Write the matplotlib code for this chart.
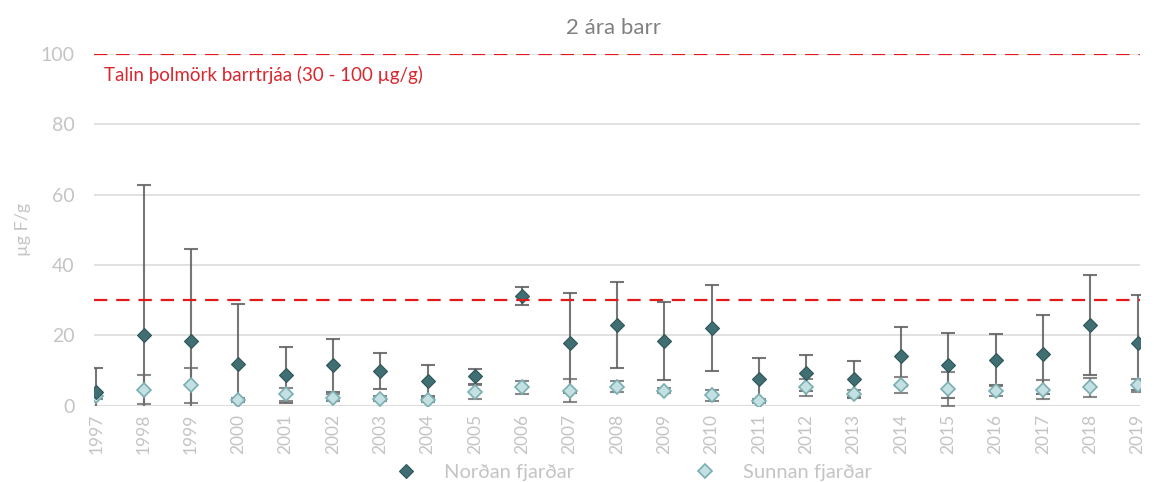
import matplotlib.pyplot as plt
import numpy as np

plt.rcParams['font.family'] = ['Lato', 'DejaVu Sans']

years = [str(y) for y in range(1997, 2020)]
nordan = [3.8, 20.0, 18.4, 11.8, 8.7, 11.5, 9.9, 7.1, 8.4, 31.1, 17.9, 23.0,
          18.4, 22.1, 7.5, 9.3, 7.5, 14.0, 11.5, 13.1, 14.6, 22.9, 17.9]
nordan_err = [6.8, 42.7, 26.2, 17.0, 8.0, 7.5, 5.1, 4.4, 2.1, 2.6, 14.2, 12.2,
              11.0, 12.3, 6.2, 5.1, 5.3, 8.5, 9.2, 7.2, 11.3, 14.3, 13.5]
sunnan = [2.8, 4.6, 5.8, 1.6, 3.2, 2.3, 2.0, 1.6, 4.0, 5.2, 4.3, 5.4,
          4.2, 3.0, 1.4, 5.2, 3.4, 5.8, 4.7, 4.2, 4.6, 5.3, 5.8]
sunnan_err = [0.8, 4.0, 5.0, 0.5, 1.8, 1.1, 0.8, 0.6, 2.0, 1.9, 3.2, 1.5,
              0.7, 1.6, 0.5, 2.5, 1.0, 2.3, 4.8, 1.5, 2.7, 2.7, 1.9]

x = np.arange(len(years))
grey = '#C4C4C4'

fig = plt.figure(figsize=(11.54, 4.82), dpi=100)
ax = fig.add_axes([94 / 1154, 76.3 / 482, 1046 / 1154, 351.7 / 482])

ax.errorbar(x, nordan, yerr=nordan_err, fmt='none', ecolor='#5e5e5e',
            elinewidth=1.5, capsize=5, capthick=1.5, alpha=0.85, zorder=2)
ax.errorbar(x, sunnan, yerr=sunnan_err, fmt='none', ecolor='#6b6b6b',
            elinewidth=1.5, capsize=5, capthick=1.5, alpha=0.8, zorder=2)
ax.plot(x, nordan, 'D', ms=7.5, color='#3F6F73', mec='#2F5558', mew=0.8,
        linestyle='none', label='Norðan fjarðar', zorder=4)
ax.plot(x, sunnan, 'D', ms=7.5, color='#C3E0E2', mec='#7AAEB1', mew=1.2,
        linestyle='none', label='Sunnan fjarðar', zorder=3)

ax.axhline(30, color='#E31A1C', ls=(0, (6, 4)), lw=1.6, zorder=5)
ax.axhline(100, color='#E31A1C', ls=(0, (6, 4)), lw=1.6, zorder=5)
ax.text(0.17, 94.0, 'Talin þolmörk barrtrjáa (30 - 100 µg/g)', color='#D9272E',
        fontsize=13.5, va='center', ha='left')

ax.set_xlim(-0.05, 22.05)
ax.set_ylim(0, 100)
ax.set_yticks([0, 20, 40, 60, 80, 100])
ax.set_xticks(x)
ax.set_xticklabels(years, rotation=90, color=grey, fontsize=12.5)
ax.tick_params(axis='y', colors=grey, labelsize=14, length=0, pad=14)
ax.tick_params(axis='x', length=0, pad=6)
ax.grid(axis='y', color='#DCDCDC', lw=1.2)
ax.set_axisbelow(True)
for s in ax.spines.values():
    s.set_visible(False)
ax.axhline(0, color='#DCDCDC', lw=1.5, zorder=1)

ax.set_ylabel('µg F/g', color=grey, fontsize=13, labelpad=7)
fig.text(0.532, 0.942, '2 ára barr', ha='center', va='center', color='#808080', fontsize=16)

fig.legend(loc='center', bbox_to_anchor=(0.545, 0.02), ncol=2, frameon=False,
           fontsize=14.5, labelcolor=grey, columnspacing=5.5, handletextpad=0.9)

fig.savefig('out.png', dpi=100)
